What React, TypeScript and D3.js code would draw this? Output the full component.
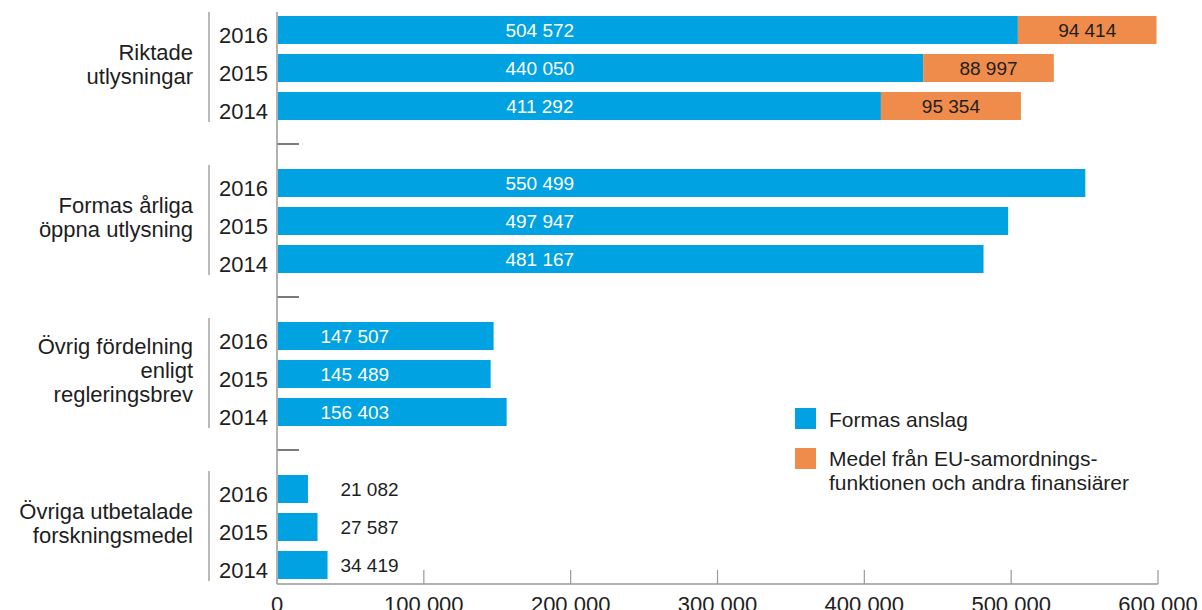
import React from "react";
import * as d3 from "d3";

const groups = [
  ["Riktade", "utlysningar"],
  ["Formas årliga", "öppna utlysning"],
  ["Övrig fördelning", "enligt", "regleringsbrev"],
  ["Övriga utbetalade", "forskningsmedel"],
];
const groupKeys = ["riktade", "arliga", "ovrig", "utbetalade"];
const years = ["2016", "2015", "2014"];
// Formas anslag per group, ordered 2016, 2015, 2014
const formasValues = [
  [504572, 440050, 411292],
  [550499, 497947, 481167],
  [147507, 145489, 156403],
  [21082, 27587, 34419],
];
// Medel från EU-samordningsfunktionen och andra finansiärer
const euValues = [
  [94414, 88997, 95354],
  [0, 0, 0],
  [0, 0, 0],
  [0, 0, 0],
];
const xTicks = [0, 100000, 200000, 300000, 400000, 500000, 600000];
const legendLabels = [["Formas anslag"], ["Medel från EU-samordnings-", "funktionen och andra finansiärer"]];

const BLUE = "#00a2e1";
const ORANGE = "#f08c4b";
const FONT = "'Liberation Sans', Arial, sans-serif";
const TEXT = "#1e1e1e";

// value label anchors (in data units) as in the original layout
const labelAnchors = [179000, 179000, 53000, 63000];

export default function App() {
  const W = 1202, H = 610;
  const x = d3.scaleLinear().domain([0, 600000]).range([277, 1158]);
  const gScale = d3.scaleBand().domain(groupKeys).range([16, 16 + 4 * 153]).paddingInner(0).paddingOuter(0);
  const yScale = d3.scaleBand().domain(years).range([0, 104]).paddingInner(10 / 38).paddingOuter(0);
  const bw = yScale.bandwidth();
  const loc = d3.formatLocale({ decimal: ",", thousands: " ", grouping: [3], currency: ["", ""] });
  const fmt = loc.format(",d");
  const axisY = 584;

  return (
    <svg width={W} height={H} style={{ position: "absolute", left: 0, top: 0 }} fontFamily={FONT}>
      <rect width={W} height={H} fill="#fff" />
      {groupKeys.map((gk, gi) => {
        const g0 = gScale(gk)!;
        const gc = g0 + 52;
        const lines = groups[gi];
        return (
          <g key={gk}>
            {/* group bracket line */}
            <line x1={209} x2={209} y1={g0 - 4} y2={g0 + 106} stroke="#8c8c8c" strokeWidth={1.2} />
            {lines.map((ln, li) => (
              <text key={li} x={193} y={gc + 4 + (li - (lines.length - 1) / 2) * 24} textAnchor="end" fontSize={22} fill={TEXT}>
                {ln}
              </text>
            ))}
            {years.map((yr, yi) => {
              const y0 = g0 + yScale(yr)!;
              const v = formasValues[gi][yi];
              const e = euValues[gi][yi];
              const cy = y0 + bw / 2;
              return (
                <g key={yr}>
                  <text x={268} y={cy + 12.5} textAnchor="end" fontSize={22} fill={TEXT}>{yr}</text>
                  <rect x={x(0) + 1} y={y0} width={x(v) - x(0) - 1} height={bw} fill={BLUE} />
                  {e > 0 && <rect x={x(v)} y={y0} width={x(v + e) - x(v)} height={bw} fill={ORANGE} />}
                  <text x={x(labelAnchors[gi])} y={cy + 7} textAnchor="middle" fontSize={19}
                    fill={gi === 3 ? TEXT : "#fff"}>{fmt(v)}</text>
                  {e > 0 && (
                    <text x={(x(v) + x(v + e)) / 2} y={cy + 7} textAnchor="middle" fontSize={19} fill={TEXT}>{fmt(e)}</text>
                  )}
                </g>
              );
            })}
            {gi < groupKeys.length - 1 && (
              <line x1={277} x2={299} y1={g0 + 104 + (153 - 104) / 2 - 0.5} y2={g0 + 104 + (153 - 104) / 2 - 0.5} stroke="#333" strokeWidth={1.3} />
            )}
          </g>
        );
      })}
      {/* axes */}
      <line x1={277} x2={277} y1={12} y2={axisY} stroke="#999" strokeWidth={1.5} />
      <line x1={277} x2={x(600000)} y1={axisY} y2={axisY} stroke="#999" strokeWidth={1.5} />
      {xTicks.map((t) => (
        <g key={t}>
          {t > 0 && <line x1={x(t)} x2={x(t)} y1={570} y2={axisY} stroke="#999" strokeWidth={1.2} />}
          <text x={x(t)} y={612} textAnchor="middle" fontSize={22} fill={TEXT}>{fmt(t)}</text>
        </g>
      ))}
      {/* legend */}
      <rect x={795} y={408} width={21} height={21} fill={BLUE} />
      <text x={829} y={427} fontSize={21} fill={TEXT}>{legendLabels[0][0]}</text>
      <rect x={795} y={448} width={21} height={21} fill={ORANGE} />
      {legendLabels[1].map((ln, i) => (
        <text key={i} x={829} y={466 + i * 24} fontSize={21} fill={TEXT}>{ln}</text>
      ))}
    </svg>
  );
}
